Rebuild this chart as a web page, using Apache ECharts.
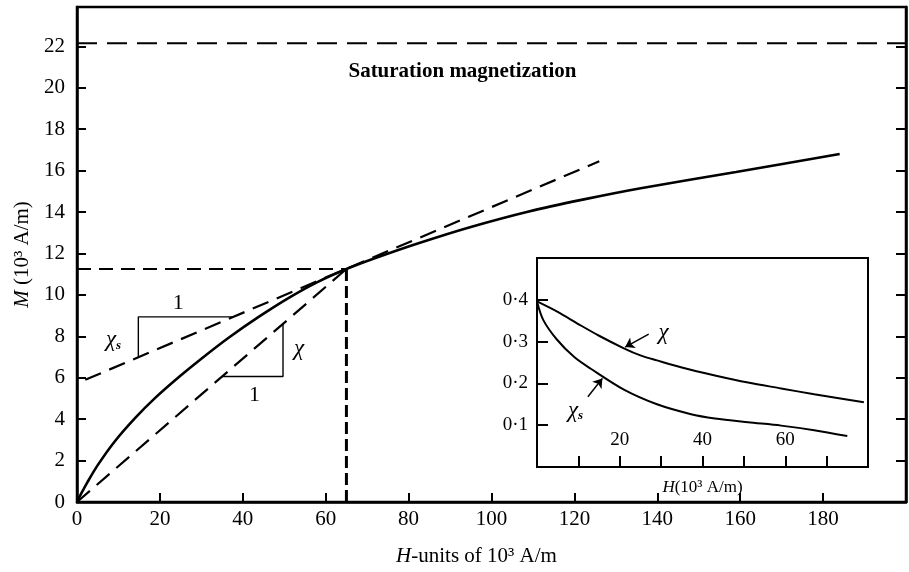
<!DOCTYPE html>
<html>
<head>
<meta charset="utf-8">
<script src="https://cdn.jsdelivr.net/npm/echarts@6/dist/echarts.min.js"></script>
<style>
html, body { margin: 0; padding: 0; background: #fff; }
#chart { width: 909px; height: 572px; }
</style>
</head>
<body>
<div id="chart"></div>
<script>
// magnetization curve (H and M both in 10^3 A/m)
const hMain = [0, 1, 2.5, 5, 9, 14, 19, 24.8, 30, 36.5, 44, 51.2, 58, 65, 72, 82, 95, 109, 122, 136, 159, 184];
const mMain = [0, 0.4, 0.95, 1.78, 2.9, 4.05, 5.05, 6.07, 6.92, 7.92, 8.96, 9.87, 10.62, 11.25, 11.78, 12.47, 13.28, 14.03, 14.6, 15.15, 15.93, 16.8];
const mSat = 22.15;
const kneeH = 65;
const kneeM = 11.25;
// chi_s tangent and chi secant
const tangentH = [2, 126];
const tangentM = [5.9, 16.45];
const secantH = [0, kneeH];
const secantM = [0, kneeM];
// slope triangles
const triSH = [14.8, 14.8, 37.7];
const triSM = [6.99, 8.94, 8.94];
const triH = [35, 49.7, 49.7];
const triM = [6.06, 6.06, 8.6];
// text notes on main plot
const noteH = [8.8, 24.4, 42.8, 53.6, 93];
const noteM = [7.8, 9.6, 5.16, 7.4, 20.76];
const noteText = ['{c|χ}{s|s}', '{n|1}', '{n|1}', '{c|χ}', '{b|Saturation magnetization}'];

// inset: susceptibilities vs H
const chiH = [0, 5, 10, 15, 21, 25, 29, 35, 43, 51, 59, 67, 79];
const chiV = [0.396, 0.371, 0.342, 0.314, 0.284, 0.267, 0.255, 0.238, 0.219, 0.202, 0.188, 0.174, 0.155];
const chiSH = [0, 1.5, 4.8, 9, 13, 21, 29, 37, 43, 51, 59, 67, 75];
const chiSV = [0.396, 0.352, 0.305, 0.263, 0.235, 0.185, 0.15, 0.127, 0.116, 0.107, 0.099, 0.088, 0.074];
const insetNoteH = [30.6, 9.3];
const insetNoteV = [0.32, 0.134];
const insetNoteText = ['{c|χ}', '{c|χ}{s|s}'];
const arrowChi = [[27, 0.318], [21.3, 0.287]];
const arrowChiS = [[12.3, 0.168], [15.8, 0.212]];

const FONT = '"Liberation Serif", "DejaVu Serif", serif';
const pairs = (xs, ys) => xs.map((x, i) => [x, ys[i]]);
const rich = {
  c: { fontFamily: FONT, fontStyle: 'italic', fontSize: 23, color: '#000' },
  s: { fontFamily: FONT, fontStyle: 'italic', fontWeight: 'bold', fontSize: 13, color: '#000', verticalAlign: 'bottom', padding: [10, 0, 0, 0] },
  n: { fontFamily: FONT, fontSize: 22, color: '#000' },
  b: { fontFamily: FONT, fontSize: 21, fontWeight: 'bold', color: '#000' },
  i: { fontFamily: FONT, fontStyle: 'italic', fontSize: 21, color: '#000' },
  t: { fontFamily: FONT, fontSize: 21, color: '#000' },
  i2: { fontFamily: FONT, fontStyle: 'italic', fontSize: 17, color: '#000' },
  t2: { fontFamily: FONT, fontSize: 17, color: '#000' }
};

const chart = echarts.init(document.getElementById('chart'));

const solid = (w) => ({ color: '#000', width: w, type: 'solid' });
const dashed = (w, d) => ({ color: '#000', width: w, type: d });

const option = {
  animation: false,
  backgroundColor: '#fff',
  grid: [
    { left: 77, right: 1, top: 7, bottom: 62, show: true, borderColor: '#000', borderWidth: 2.5 },
    { left: 537, top: 258, width: 331, height: 209, show: true, backgroundColor: '#fff', borderColor: '#000', borderWidth: 2 }
  ],
  xAxis: [
    {
      gridIndex: 0, type: 'value', min: 0, max: 200, interval: 20,
      axisLine: { lineStyle: { color: '#000', width: 2.5 } },
      axisTick: { inside: true, length: 9, lineStyle: { color: '#000', width: 2 } },
      axisLabel: { formatter: v => (v < 200 ? v : ''), margin: 7, fontFamily: FONT, fontSize: 21, color: '#000' },
      splitLine: { show: false },
      name: '{i|H}{t|-units of 10³ A/m}', nameLocation: 'middle', nameGap: 44,
      nameTextStyle: { rich: rich, padding: [0, 30, 0, 0] }
    },
    {
      gridIndex: 1, type: 'value', min: 0, max: 80, interval: 10,
      axisLine: { lineStyle: { color: '#000', width: 2 } },
      axisTick: { inside: true, length: 11, lineStyle: { color: '#000', width: 2 } },
      axisLabel: { inside: true, margin: 17, formatter: v => ((v === 20 || v === 40 || v === 60) ? String(v) : ''), fontFamily: FONT, fontSize: 19, color: '#000' },
      splitLine: { show: false },
      name: '{i2|H}{t2|(10³ A/m)}', nameLocation: 'middle', nameGap: 12,
      nameTextStyle: { rich: rich }
    }
  ],
  yAxis: [
    {
      gridIndex: 0, type: 'value', min: 0, max: 23.9, interval: 2,
      axisLine: { lineStyle: { color: '#000', width: 2.5 } },
      axisTick: { inside: true, length: 9, lineStyle: { color: '#000', width: 2 } },
      axisLabel: { formatter: v => ((v % 2 === 0 && v <= 22) ? v : ''), margin: 12, fontFamily: FONT, fontSize: 21, color: '#000' },
      splitLine: { show: false },
      name: '{i|M}{t| (10³ A/m)}', nameLocation: 'middle', nameGap: 44,
      nameTextStyle: { rich: rich }
    },
    {
      gridIndex: 0, type: 'value', min: 0, max: 23.9, interval: 2, position: 'right',
      axisLine: { lineStyle: { color: '#000', width: 2.5 } },
      axisTick: { inside: true, length: 10, lineStyle: { color: '#000', width: 2 } },
      axisLabel: { show: false },
      splitLine: { show: false }
    },
    {
      gridIndex: 1, type: 'value', min: 0, max: 0.5, interval: 0.1,
      axisLine: { lineStyle: { color: '#000', width: 2 } },
      axisTick: { inside: true, length: 11, lineStyle: { color: '#000', width: 2 } },
      axisLabel: { formatter: v => ((v > 0.05 && v < 0.45) ? '0·' + Math.round(v * 10) : ''), margin: 9, fontFamily: FONT, fontSize: 19, color: '#000' },
      splitLine: { show: false }
    }
  ],
  series: [
    { type: 'line', xAxisIndex: 0, yAxisIndex: 0, data: pairs(hMain, mMain), smooth: 0.3, showSymbol: false, lineStyle: solid(2.6) },
    { type: 'line', xAxisIndex: 0, yAxisIndex: 0, data: [[0, mSat], [200, mSat]], showSymbol: false, lineStyle: dashed(2, [20, 10]) },
    { type: 'line', xAxisIndex: 0, yAxisIndex: 0, data: [[0, kneeM], [kneeH, kneeM]], showSymbol: false, lineStyle: dashed(2.2, [14, 8]) },
    { type: 'line', xAxisIndex: 0, yAxisIndex: 0, data: [[kneeH, 0], [kneeH, kneeM]], showSymbol: false, lineStyle: dashed(3, [12, 5]) },
    { type: 'line', xAxisIndex: 0, yAxisIndex: 0, data: pairs(tangentH, tangentM), showSymbol: false, lineStyle: dashed(2.2, [17, 9]) },
    { type: 'line', xAxisIndex: 0, yAxisIndex: 0, data: pairs(secantH, secantM), showSymbol: false, lineStyle: dashed(2.2, [17, 9]) },
    { type: 'line', xAxisIndex: 0, yAxisIndex: 0, data: pairs(triSH, triSM), showSymbol: false, lineStyle: solid(1.4) },
    { type: 'line', xAxisIndex: 0, yAxisIndex: 0, data: pairs(triH, triM), showSymbol: false, lineStyle: solid(1.4) },
    {
      type: 'scatter', xAxisIndex: 0, yAxisIndex: 0, symbolSize: 0, itemStyle: { color: '#000', opacity: 1 },
      data: noteH.map((h, i) => ({ value: [h, noteM[i]], label: { formatter: noteText[i] } })),
      label: { show: true, position: 'inside', rich: rich }
    },
    // inset
    { type: 'line', xAxisIndex: 1, yAxisIndex: 2, data: pairs(chiH, chiV), smooth: 0.3, showSymbol: false, lineStyle: solid(2) },
    {
      type: 'line', xAxisIndex: 1, yAxisIndex: 2, data: pairs(chiSH, chiSV), smooth: 0.3, showSymbol: false, lineStyle: solid(2),
      markLine: {
        silent: true, symbol: ['none', 'arrow'], symbolSize: 9,
        lineStyle: solid(1.5), label: { show: false },
        data: [
          [{ coord: arrowChi[0] }, { coord: arrowChi[1] }],
          [{ coord: arrowChiS[0] }, { coord: arrowChiS[1] }]
        ]
      }
    },
    {
      type: 'scatter', xAxisIndex: 1, yAxisIndex: 2, symbolSize: 0, itemStyle: { color: '#000', opacity: 1 },
      data: insetNoteH.map((h, i) => ({ value: [h, insetNoteV[i]], label: { formatter: insetNoteText[i] } })),
      label: { show: true, position: 'inside', rich: rich }
    }
  ]
};

chart.setOption(option);
</script>
</body>
</html>
